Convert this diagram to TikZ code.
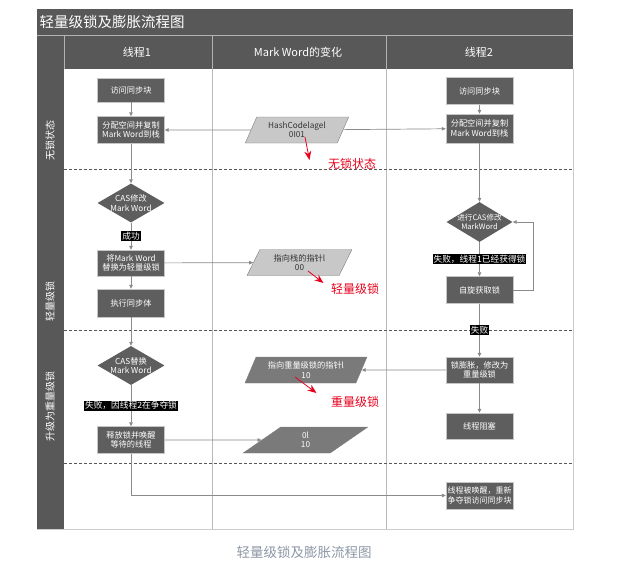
\documentclass[tikz,border=0pt]{standalone}
\usepackage{fontspec}
\setmainfont{Noto Sans CJK SC}
\usetikzlibrary{shapes.geometric,arrows.meta,positioning}
\definecolor{framegray}{HTML}{585858}
\definecolor{boxgray}{HTML}{5E5E5E}
\definecolor{linegray}{HTML}{8A8A8A}
\definecolor{lightpar}{HTML}{C8C8C8}
\definecolor{darkpar}{HTML}{7A7A7A}
\definecolor{capgray}{HTML}{8C96A6}
\definecolor{markred}{HTML}{E8001C}

\begin{document}
\begin{tikzpicture}[x=1pt,y=-1pt,
  box/.style={draw=gray!45,fill=boxgray,text=white,minimum width=67pt,
    minimum height=26pt,inner sep=1pt,align=center,
    font=\fontsize{8.2}{9.5}\selectfont},
  choice/.style={diamond,aspect=1.7,fill=boxgray,text=white,minimum width=67pt,
    minimum height=39pt,inner sep=-3pt,align=center,
    font=\fontsize{8.2}{9.5}\selectfont},
  ptr/.style={trapezium,trapezium left angle=65,trapezium right angle=115,
    trapezium stretches,draw=gray,minimum height=26pt,inner sep=1pt,
    align=center,font=\fontsize{8.2}{9.5}\selectfont},
  tag/.style={fill=black,text=white,inner sep=1pt,font=\fontsize{8.7}{9}\selectfont},
  flow/.style={draw=linegray,line width=0.7pt,-{Triangle[length=4pt,width=3.5pt]}},
  redtag/.style={text=markred,font=\fontsize{12}{12}\selectfont},
  redarrow/.style={draw=markred,line width=0.8pt,-{Stealth[length=9pt,width=7pt]}},
  sep/.style={dash pattern=on 3pt off 2pt,line width=1pt,draw=framegray}
]
  \useasboundingbox (0,0) rectangle (622,570);

  %frame, title bar, header row and side strip
  \fill[framegray] (37,9) rectangle (573,529);
  \fill[white] (64,69) rectangle (573,529);
  \draw[gray!60] (37,35.5) -- (573,35.5);
  \draw[gray!60] (64,36) -- (64,69);
  \draw[gray!60] (212,36) -- (212,69);
  \draw[gray!60] (386,36) -- (386,69);
  \draw[gray!55] (212,69) -- (212,529);
  \draw[gray!55] (386,69) -- (386,529);
  \draw[gray!40] (573,69) -- (573,529) -- (37,529);

  \node[text=white,anchor=west,font=\fontsize{14.5}{15}\selectfont] (title) at (36,22) {轻量级锁及膨胀流程图};
  \node[text=white,font=\fontsize{11}{11}\selectfont] (head1) at (137,52) {线程1};
  \node[text=white,font=\fontsize{11}{11}\selectfont] (headmw) at (298,52) {Mark Word的变化};
  \node[text=white,font=\fontsize{11}{11}\selectfont] (head2) at (479,52) {线程2};

  \node[rotate=90,text=white,font=\fontsize{10}{10}\selectfont] (side1) at (50,140) {无锁状态};
  \node[rotate=90,text=white,font=\fontsize{10}{10}\selectfont] (side2) at (50,301) {轻量级锁};
  \node[rotate=90,text=white,font=\fontsize{10}{10}\selectfont] (side3) at (50,406) {升级为重量级锁};

  %state borders
  \draw[sep] (64,169) -- (573,169);
  \draw[sep] (64,330) -- (573,330);
  \draw[sep] (64,463) -- (573,463);

  %thread 1
  \node[box,minimum height=24pt] (t1access) at (131,90) {访问同步块};
  \node[box,minimum height=27pt] (t1copy) at (131,130) {分配空间并复制\\Mark Word到栈};
  \node[choice] (t1cas) at (131,203) {CAS修改\\Mark Word};
  \node[box] (t1swap) at (131,263) {将Mark Word\\替换为轻量级锁};
  \node[box,minimum height=28pt] (t1exec) at (131,303) {执行同步体};
  \node[choice] (t1cas2) at (131,365.5) {CAS替换\\Mark Word};
  \node[box,minimum height=27pt] (t1release) at (131,440) {释放锁并唤醒\\等待的线程};

  %mark word
  \node[ptr,fill=lightpar,text=black!80,minimum width=104pt] (hash) at (297,130) {HashCodelagel\\0I01};
  \node[ptr,fill=lightpar,text=black!80,minimum width=105pt] (stackptr) at (299.5,262.5) {指向栈的指针l\\00};
  \node[ptr,fill=darkpar,text=white,minimum width=123pt] (heavyptr) at (306,370) {指向重量级锁的指针l\\10};
  \node[ptr,fill=darkpar,text=white,minimum width=125pt] (zeroten) at (305.5,440) {0l\\10};

  \node[redtag] (nolock) at (352,164) {无锁状态};
  \node[redtag] (light) at (355,289) {轻量级锁};
  \node[redtag] (heavy) at (355,402) {重量级锁};

  %thread 2
  \node[box,minimum height=27pt] (t2access) at (479.5,91) {访问同步块};
  \node[box,minimum height=29pt] (t2copy) at (479.5,128.5) {分配空间并复制\\Mark Word到栈};
  \node[choice,minimum width=66pt,minimum height=40pt,font=\fontsize{7.6}{9.5}\selectfont] (t2cas) at (479.5,222) {进行CAS修改\\MarkWord};
  \node[box,minimum height=27pt] (t2spin) at (479.5,290) {自旋获取锁};
  \node[box] (t2inflate) at (479.5,370) {锁膨胀，修改为\\重量级锁};
  \node[box] (t2block) at (479.5,426) {线程阻塞};
  \node[box,minimum height=27pt,font=\fontsize{8}{9.5}\selectfont] (t2wake) at (479.5,495.5) {线程被唤醒，重新\\争夺锁访问同步块};

  %connectors
  \draw[flow] (t1access) -- (t1copy);
  \draw[flow] (hash) -- (t1copy);
  \draw[flow] (hash) -- (t2copy);
  \draw[flow] (t1copy) -- (t1cas);
  \draw[flow] (t1cas) -- node[tag] {成功} (t1swap);
  \draw[flow] (t1swap) -- (stackptr);
  \draw[flow] (t1swap) -- (t1exec);
  \draw[flow] (t1exec) -- (t1cas2);
  \draw[flow] (t1cas2) -- node[tag] {失败，因线程2在争夺锁} (t1release);
  \draw[flow] (t1release) -- (zeroten);
  \draw[flow] (t1release) |- (t2wake);

  \draw[flow] (t2access) -- (t2copy);
  \draw[flow] (t2copy) -- (t2cas);
  \draw[flow] (t2cas) -- node[tag] {失败，线程1已经获得锁} (t2spin);
  \draw[flow] (t2spin.east) -- ++(20,0) |- (t2cas.east);
  \draw[flow] (t2spin) -- node[tag] {失败} (t2inflate);
  \draw[flow] (t2inflate) -- (heavyptr);
  \draw[flow] (t2inflate) -- (t2block);

  %red hints
  \draw[redarrow] ([shift={(8,7)}]hash.center) -- ([shift={(-15,-4)}]nolock.west);
  \draw[redarrow] ([shift={(8.5,8.5)}]stackptr.center) -- ([shift={(-4,-6)}]light.west);
  \draw[redarrow] ([shift={(-11,7)}]heavyptr.center) -- ([shift={(-11,-9)}]heavy.west);

  %caption
  \node[text=capgray,font=\fontsize{13.5}{14}\selectfont] (caption) at (304,552) {轻量级锁及膨胀流程图};
\end{tikzpicture}
\end{document}
